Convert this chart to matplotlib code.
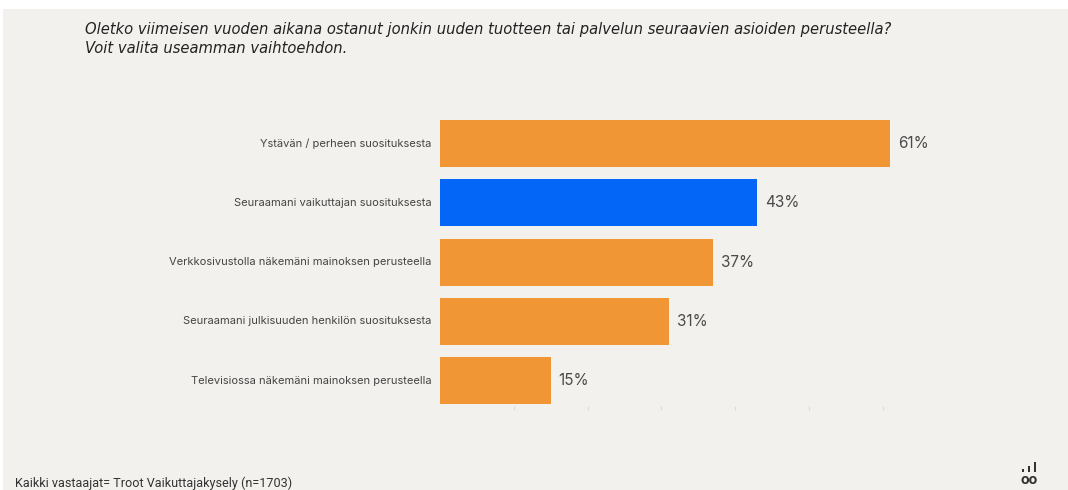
import matplotlib
matplotlib.use("Agg")
import matplotlib.pyplot as plt
from matplotlib.patches import Rectangle

# data
categories = [
    "Ystävän / perheen suosituksesta",
    "Seuraamani vaikuttajan suosituksesta",
    "Verkkosivustolla näkemäni mainoksen perusteella",
    "Seuraamani julkisuuden henkilön suosituksesta",
    "Televisiossa näkemäni mainoksen perusteella",
]
values = [61, 43, 37, 31, 15]
highlight = [False, True, False, False, False]

title = ("Oletko viimeisen vuoden aikana ostanut jonkin uuden tuotteen tai palvelun seuraavien asioiden perusteella?\n"
         "Voit valita useamman vaihtoehdon.")
footer = "Kaikki vastaajat= Troot Vaikuttajakysely (n=1703)"

ORANGE = "#F19634"
BLUE = "#0466F6"
BG = "#F2F1ED"

W, H = 1068, 490
fig = plt.figure(figsize=(W / 100, H / 100), dpi=100)
fig.patch.set_facecolor("white")

# beige panel
fig.add_artist(Rectangle((3 / W, 0), 1 - 3 / W, 1 - 9 / H, transform=fig.transFigure,
                         facecolor=BG, edgecolor="none", zorder=-10))

# axes placement in pixels
left, right = 440, 1030
top, bottom = 113.85, 410.35
ax = fig.add_axes([left / W, 1 - bottom / H, (right - left) / W, (bottom - top) / H])
ax.set_facecolor("none")

ypos = list(range(len(categories)))
colors = [BLUE if h else ORANGE for h in highlight]
ax.barh(ypos, values, height=0.79, color=colors)
ax.set_xlim(0, 80)
ax.set_ylim(len(categories) - 0.5, -0.5)

for y, v in zip(ypos, values):
    ax.text(v + 1.1, y, f"{v}%", va="center", ha="left", fontsize=11,
            color="#4A4A4A", family="Inter")

for y, c in zip(ypos, categories):
    ax.text(-1.2, y, c, va="center", ha="right", fontsize=8.0,
            color="#444444", family="Inter")

for s in ax.spines.values():
    s.set_visible(False)
ax.set_yticks([])
ax.set_xticks([10, 20, 30, 40, 50, 60])
ax.tick_params(axis="x", direction="in", length=3, color="#DCDBD6", labelbottom=False)

fig.text(85 / W, 1 - 39 / H, title, ha="left", va="center", fontsize=10.65,
         style="italic", color="#222222", family="DejaVu Sans", linespacing=1.3)

fig.text(15 / W, 1 - 483 / H, footer, ha="left", va="center", fontsize=9.1,
         color="#333333", family="Roboto")

# small logo: three bars above "oo"
for x0, h in [(1022, 3), (1028, 6), (1034, 10)]:
    fig.add_artist(Rectangle((x0 / W, 1 - 472 / H), 2 / W, h / H,
                             transform=fig.transFigure, facecolor="#333333",
                             edgecolor="none"))
fig.text(1029 / W, 1 - 480 / H, "oo", ha="center", va="center", fontsize=11,
         fontweight="bold", color="#333333", family="Roboto")

fig.savefig("out.png", dpi=100, facecolor="white")
